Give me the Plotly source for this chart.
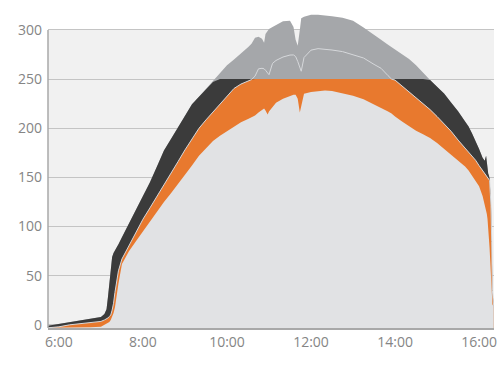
import plotly.graph_objects as go
import numpy as np

DAY = "2024-06-01 "

TIMES = [
    "05:44", "06:00", "06:15", "06:30", "06:45", "07:00", "07:05", "07:08", "07:10", "07:12",
    "07:14", "07:16", "07:18", "07:20", "07:22", "07:25", "07:30", "07:40", "07:50", "08:00",
    "08:10", "08:20", "08:30", "08:40", "08:50", "09:00", "09:10", "09:20", "09:30", "09:40",
    "09:50", "10:00", "10:10", "10:20", "10:30", "10:35", "10:40", "10:45", "10:50", "10:53",
    "10:55", "10:58", "11:00", "11:05", "11:10", "11:20", "11:30", "11:35", "11:38", "11:41",
    "11:44", "11:46", "11:50", "12:00", "12:10", "12:20", "12:30", "12:45", "13:00", "13:15",
    "13:30", "13:40", "13:50", "13:55", "14:00", "14:10", "14:20", "14:30", "14:40", "14:50",
    "15:00", "15:10", "15:20", "15:30", "15:40", "15:45", "15:50", "15:55", "16:00", "16:05",
    "16:08", "16:10", "16:11", "16:12", "16:13", "16:14", "16:15", "16:16", "16:17", "16:18",
    "16:19", "16:21",
]

# top envelope (dark below the limit, grey above it)
TOP = [
    -1, 1, 3, 4.5, 6, 8, 11, 16, 28, 41,
    58, 69, 73, 76, 79, 82, 89, 103, 117, 131,
    145, 161, 177.5, 189, 201, 212.5, 224.5, 232, 240, 247,
    255.7, 264, 270, 275.8, 282.5, 286, 292, 293, 291, 287,
    296, 299, 301, 303, 305, 309, 309.5, 303, 290, 284,
    300, 312, 313.5, 315.5, 315.5, 315, 314, 312.5, 309.5, 302.5,
    294.5, 290, 285, 282.5, 280, 275, 270.5, 264, 256, 249,
    242, 235.5, 226.3, 217.3, 207, 201.7, 194.6, 187.5, 179, 170,
    167, 172, 163, 156, 154, 152, 149, 135, 121, 85,
    35, 18,
]

# orange top / white line above the limit
POTENTIAL = [
    -3, -2, 0, 1, 2, 3.5, 5, 6, 7, 8.5,
    10, 15, 22, 33, 43, 55, 67, 81, 94.5, 107.5,
    119, 130.5, 142, 154, 166, 178, 189, 200, 208.5, 216.5,
    224.5, 233, 240.5, 245, 248, 249.5, 253, 260.5, 261, 260.5,
    259, 256, 254.5, 266, 269, 272.5, 274.5, 274.6, 273, 268,
    261, 258, 272, 279.5, 281, 280.5, 279.6, 278, 275, 271.5,
    265, 261, 253.5, 250, 249, 243, 237, 231, 225.5, 219,
    212, 205, 197, 188, 179.5, 175.5, 171.5, 167.5, 162, 157,
    154, 152.5, 151.5, 150.5, 149.5, 148.5, 147, 134, 121, 85,
    35, 18,
]

# light grey area
ACTUAL = [
    -3, -3, -3, -3, -2.5, -2, 0, 1, 2, 3,
    5, 8, 12, 18, 30, 42, 62, 75, 85, 95,
    106, 116, 125, 134, 143, 152, 162, 172, 180, 187,
    192.5, 197, 202, 206, 209.5, 211, 213, 216, 219, 220,
    218, 214, 217, 222, 226, 230, 233, 234, 234, 230,
    216, 222, 235, 237, 238, 238.5, 238, 235.5, 233, 229.5,
    224.5, 221, 217, 215, 212, 207, 202, 197.5, 194, 190,
    185, 179, 173, 167, 161, 157, 152, 147, 141, 131,
    123, 116, 113, 108, 101, 88, 78, 62, 48, 30,
    21, 18,
]

LIMIT = 250
Y_MIN = -3.2
Y_MAX = 330.5
Y_TICKS = [0, 50, 100, 150, 200, 250, 300]
X_START = DAY + "05:44:24"
X_END = DAY + "16:21:18"

x = [DAY + t for t in TIMES]
n = len(x)
top = np.array(TOP, dtype=float)
pot = np.array(POTENTIAL, dtype=float)
act = np.array(ACTUAL, dtype=float)

fig = go.Figure()


def add_area(y, color):
    fig.add_trace(go.Scatter(x=x, y=[Y_MIN] * n, mode="lines", line=dict(width=0),
                             hoverinfo="skip", showlegend=False))
    fig.add_trace(go.Scatter(x=x, y=y, mode="lines", line=dict(width=0, color=color),
                             fill="tonexty", fillcolor=color, hoverinfo="skip",
                             showlegend=False))


add_area(top, "#a5a7aa")
add_area(np.minimum(top, LIMIT), "#3b3b3b")
add_area(np.minimum(pot, LIMIT), "#e8792e")
add_area(act, "#e1e2e4")

# light line along the potential curve
fig.add_trace(go.Scatter(x=x, y=pot, mode="lines", line=dict(width=1, color="#d6d8db"),
                         hoverinfo="skip", showlegend=False))

TICK_FONT = dict(family="Open Sans", size=14, color="#858585")

fig.update_layout(
    width=497, height=373,
    margin=dict(l=48, r=0, t=0, b=45),
    paper_bgcolor="white",
    plot_bgcolor="rgba(0,0,0,0)",
    showlegend=False,
    font=TICK_FONT,
    shapes=[
        dict(type="rect", xref="paper", yref="y", x0=0, x1=1, y0=Y_MIN, y1=300,
             fillcolor="#f1f1f1", line=dict(width=0), layer="below"),
        dict(type="line", xref="paper", yref="y", x0=0, x1=0, y0=Y_MIN, y1=300,
             line=dict(color="#a8a8a8", width=1.5), layer="above"),
    ],
)

fig.update_xaxes(
    type="date",
    range=[X_START, X_END],
    tick0=DAY + "06:00", dtick=2 * 3600 * 1000,
    tickformat="%-H:%M",
    showgrid=False, zeroline=False,
    showline=True, linecolor="#a8a8a8", linewidth=1.5,
    ticks="", tickfont=TICK_FONT,
    ticklabeloverflow="allow",
)

fig.update_yaxes(
    range=[Y_MIN, Y_MAX],
    tickvals=Y_TICKS,
    showgrid=True, gridcolor="#c4c4c4", gridwidth=1,
    zeroline=False, showline=False, ticks="",
    ticklabelstandoff=5,
    tickfont=TICK_FONT,
)

fig.write_html("out.html")
